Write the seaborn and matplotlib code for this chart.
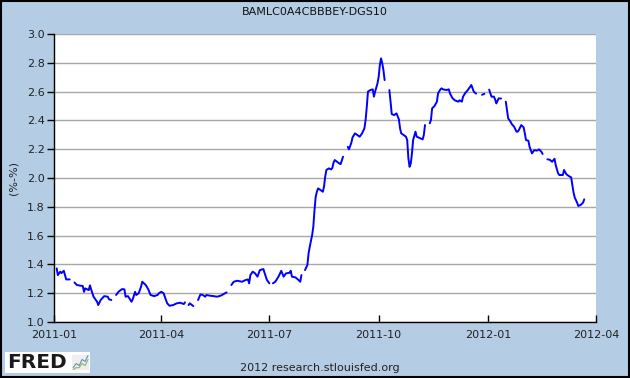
import numpy as np
import pandas as pd
import seaborn as sns
import matplotlib.pyplot as plt
from matplotlib.patches import Rectangle

# days since 2011-01-01, spread in (%-%); NaN marks a missing day (gap in the line)
days = [2, 3, 5, 6, 8, 9, 10, 13, 15,
        17, 19, 24, 25, 26, 29, 30, 31, 33, 36, 37, 39, 42, 45, 46, 48, 50,
        52, 54, 57, 59, 60, 62, 65, 66, 68, 69, 71, 73, 74, 77, 79, 81, 84, 87, 88, 90, 92,
        93, 95, 97, 100, 103, 106, 109, 110, 112,
        113, 114, 117, 119,
        121, 123, 125, 127, 128, 131, 134, 137, 140, 142, 145, 148,
        149, 151, 154, 158, 161, 163, 164, 165, 167, 169, 171, 173, 176, 177, 179, 181, 183,
        184, 186, 189, 191, 193, 195, 198, 199, 200, 203, 205, 207, 208, 210,
        211, 213, 214, 215, 217, 218, 219, 220, 221, 222, 224, 226, 227, 228, 229, 231,
        233, 234, 235, 236, 238, 240, 241, 243, 245,
        247, 248, 250, 251, 253, 255, 257, 259, 261, 262, 263, 264, 266, 268, 269, 270,
        272, 273, 274, 275, 276, 277, 278, 280,
        282, 283, 284, 286, 288, 290, 291, 292, 294, 296, 297, 298, 299, 300, 301, 302,
        304, 305, 307, 310, 311, 312, 314,
        316, 317, 318, 320, 322, 323, 325, 326, 327, 330, 332, 333, 335, 337, 340, 341,
        343, 344, 346, 348, 350, 351, 353, 355, 357,
        360, 362, 364,
        366, 367, 368, 370, 371, 372, 374, 376, 378,
        380, 381, 382, 384, 385, 387, 389, 390, 391, 393, 395, 396, 397, 399, 400, 402,
        404, 406, 408, 410, 411, 413,
        415, 417, 419, 421, 422, 424, 425, 428, 429, 431, 433, 435, 436, 437, 438, 440,
        441, 443, 445, 446]

spread = [1.373, 1.326, 1.350, 1.340, 1.356, 1.326, 1.296, 1.296, np.nan,
          1.275, 1.257, 1.250, 1.210, 1.234, 1.222, 1.255, 1.227, 1.176, 1.141, 1.118, 1.153,
          1.180, 1.176, 1.158, 1.153, np.nan,
          1.188, 1.210, 1.229, 1.227, 1.176, 1.180, 1.141, 1.158, 1.210, 1.188, 1.200, 1.245,
          1.280, 1.257, 1.229, 1.188, 1.180, 1.188, 1.200, 1.210, 1.200,
          1.176, 1.130, 1.113, 1.118, 1.130, 1.134, 1.125, 1.137, np.nan,
          1.118, 1.130, 1.111, np.nan,
          1.153, 1.192, 1.188, 1.176, 1.188, 1.183, 1.180, 1.176, 1.183, 1.192, 1.206, np.nan,
          1.257, 1.280, 1.287, 1.280, 1.292, 1.296, 1.269, 1.326, 1.350, 1.338, 1.315, 1.361,
          1.368, 1.340, 1.292, 1.269, np.nan,
          1.269, 1.280, 1.320, 1.356, 1.315, 1.338, 1.342, 1.356, 1.315, 1.310, 1.296, 1.280,
          1.326, np.nan,
          1.361, 1.396, 1.477, 1.523, 1.604, 1.662, 1.778, 1.870, 1.905, 1.928, 1.917, 1.905,
          1.940, 2.010, 2.056, 2.067,
          2.060, 2.070, 2.106, 2.125, 2.113, 2.100, 2.097, 2.148, np.nan,
          2.217, 2.199, 2.245, 2.282, 2.310, 2.299, 2.287, 2.310, 2.345, 2.403, 2.495, 2.600,
          2.611, 2.616, 2.565, 2.600,
          2.657, 2.703, 2.785, 2.831, 2.797, 2.750, 2.680, np.nan,
          2.611, 2.530, 2.444, 2.437, 2.449, 2.408, 2.345, 2.310, 2.299, 2.287, 2.264, 2.137,
          2.078, 2.100, 2.171, 2.264,
          2.322, 2.287, 2.280, 2.268, 2.299, 2.368, np.nan,
          2.380, 2.403, 2.484, 2.500, 2.530, 2.588, 2.616, 2.623, 2.616, 2.611, 2.616, 2.588,
          2.556, 2.540, 2.530, 2.540,
          2.530, 2.565, 2.592, 2.611, 2.634, 2.646, 2.600, 2.586, np.nan,
          2.578, 2.585, np.nan,
          2.614, 2.588, 2.565, 2.565, 2.546, 2.518, 2.553, 2.552, np.nan,
          2.530, 2.472, 2.414, 2.391, 2.375, 2.356, 2.322, 2.322, 2.333, 2.368, 2.352, 2.310,
          2.264, 2.259, 2.217, 2.171,
          2.194, 2.190, 2.199, 2.182, 2.167, np.nan,
          2.130, 2.127, 2.113, 2.134, 2.090, 2.033, 2.021, 2.021, 2.056, 2.026, 2.014, 2.005,
          1.951, 1.900, 1.865, 1.829,
          1.806, 1.813, 1.829, 1.852]

x_ticks = ['2011-01', '2011-04', '2011-07', '2011-10', '2012-01', '2012-04']
y_ticks = [1.0, 1.2, 1.4, 1.6, 1.8, 2.0, 2.2, 2.4, 2.6, 2.8, 3.0]

# little zig-zags of the FRED logo icon
logo_blue = [1, 3, 2, 5, 4, 7]
logo_green = [0, 1, 1, 3, 2, 5]

# dataframe, split into segments at the missing days
df = pd.DataFrame({'day': days, 'value': spread})
df['date'] = pd.Timestamp('2011-01-01') + pd.to_timedelta(df['day'], unit='D')
df['seg'] = df['value'].isna().cumsum()
df = df.dropna()

bg = '#B4CDE5'
sns.set_style('white')
plt.rcParams['font.family'] = ['DejaVu Sans']

fig = plt.figure(figsize=(6.3, 3.78), dpi=100, facecolor=bg)
ax = fig.add_axes([0.0862, 0.148, 0.860, 0.762])
ax.set_facecolor('white')

sns.lineplot(data=df, x='date', y='value', units='seg', estimator=None,
             color='#0000FF', linewidth=1.4, ax=ax)

xt = pd.to_datetime(x_ticks)
ax.set_xlim(xt[0], xt[-1])
ax.set_ylim(1.0, 3.0)
ax.set_xticks(xt)
ax.set_xticklabels(x_ticks)
ax.set_yticks(y_ticks)
ax.set_yticklabels([f'{v:.1f}' for v in y_ticks])
ax.yaxis.grid(True, color='#A8A8A8', linewidth=1.0)
ax.xaxis.grid(False)
ax.set_axisbelow(True)

for s in ['top', 'right']:
    ax.spines[s].set_visible(False)
for s in ['left', 'bottom']:
    ax.spines[s].set_color('black')
    ax.spines[s].set_linewidth(1.0)

ax.tick_params(axis='x', direction='in', length=5, width=1, colors='black',
               labelsize=8, pad=6, labelcolor='#222222')
ax.tick_params(axis='y', direction='out', length=5, width=1, colors='black',
               labelsize=8, pad=2, labelcolor='#222222')
ax.tick_params(axis='both', bottom=True, left=True)
ax.set_xlabel('')
ax.set_ylabel('(%-%)', fontsize=8, color='#222222', labelpad=6)

fig.text(0.5, 0.968, 'BAMLC0A4CBBBEY-DGS10', ha='center', va='center',
         fontsize=8, color='#111111')
fig.text(0.508, 0.027, '2012 research.stlouisfed.org', ha='center', va='center',
         fontsize=8, color='#222222')

# FRED logo box
fig.patches.append(Rectangle((0.008, 0.013), 0.135, 0.055, transform=fig.transFigure,
                             facecolor='white', edgecolor='none', zorder=2))
fig.text(0.011, 0.040, 'FRED', ha='left', va='center', fontsize=14.5,
         fontweight='heavy', color='#1a1a1a', zorder=3)
icon = fig.add_axes([0.115, 0.02, 0.026, 0.042])
icon.set_zorder(4)
icon.set_facecolor('#EEEEEE')
sns.lineplot(x=range(len(logo_blue)), y=logo_blue, color='#6A8FC0', linewidth=0.8, ax=icon)
sns.lineplot(x=range(len(logo_green)), y=logo_green, color='#8DB85A', linewidth=0.8, ax=icon)
icon.set_xticks([])
icon.set_yticks([])
for s in icon.spines.values():
    s.set_visible(False)

# outer black frame
fig.patches.append(Rectangle((0.0015, 0.0025), 0.997, 0.995, transform=fig.transFigure,
                             facecolor='none', edgecolor='black', linewidth=1.5, zorder=5))

fig.savefig('out.png', dpi=100, facecolor=bg)
